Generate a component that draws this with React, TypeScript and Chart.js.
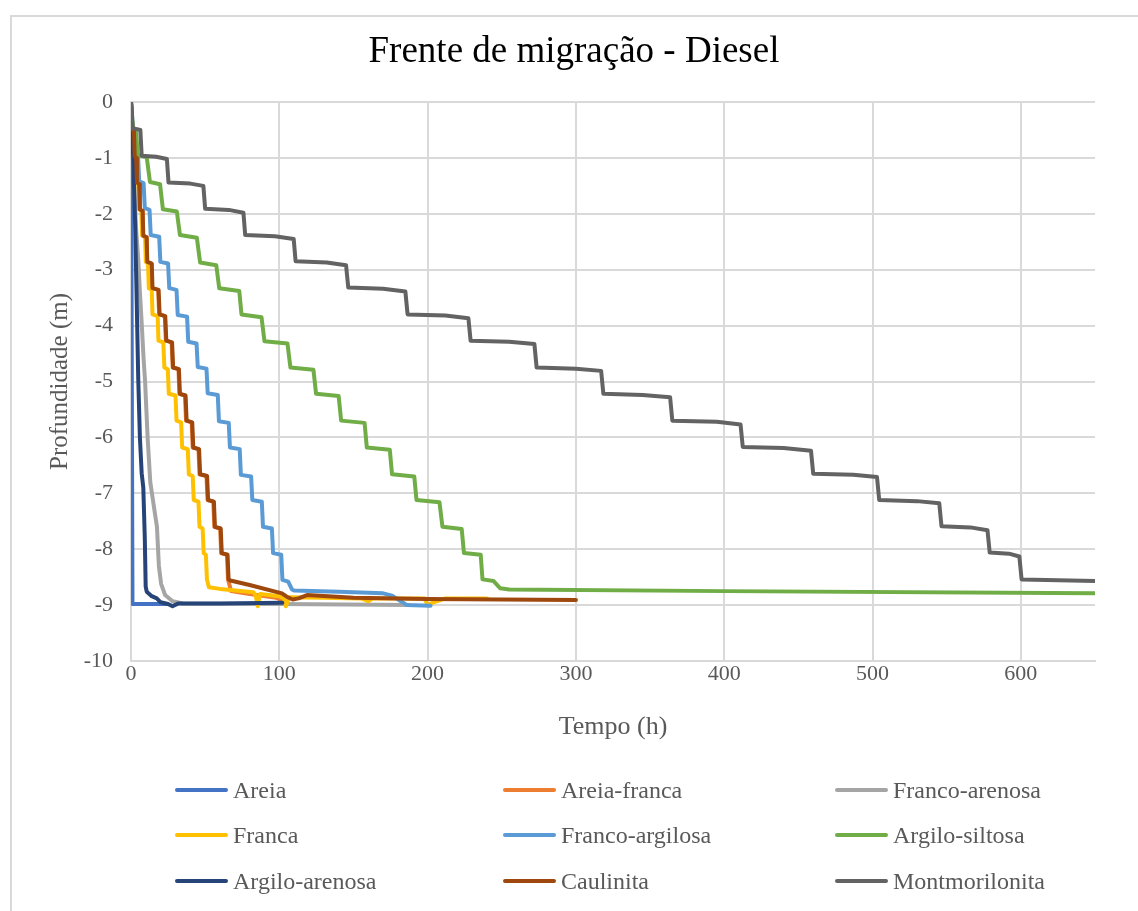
import { useEffect, useRef } from 'react';
import { Chart, registerables } from 'chart.js';

Chart.register(...registerables);

const FONT = "'Liberation Serif', 'Times New Roman', serif";
const TITLE = 'Frente de migração - Diesel';
const X_TITLE = 'Tempo (h)';
const Y_TITLE = 'Profundidade (m)';

const X_MIN = 0;
const X_MAX = 650;
const X_STEP = 100;
const Y_MIN = -10;
const Y_MAX = 0;
const Y_STEP = 1;

// [tempo (h), profundidade (m)]
const areia = [[0, 0], [1, -8.98], [24, -8.98]];

const areiaFranca = [
  [0, 0], [0.8, -0.5], [1.7, -0.52], [2.2, -0.97], [3.2, -1.0], [3.7, -1.44], [5.2, -1.47], [5.7, -1.92],
  [7.5, -1.95], [8, -2.39], [10.2, -2.42], [10.7, -2.86], [13.7, -2.89], [14.2, -3.33], [18.3, -3.36],
  [19, -3.8], [22.8, -3.83], [23.5, -4.27], [27.4, -4.3], [28.1, -4.75], [32, -4.78], [32.6, -5.22],
  [36.4, -5.25], [37.1, -5.7], [40.9, -5.73], [41.6, -6.18], [45.5, -6.21], [46.2, -6.66], [50.9, -6.69],
  [51.6, -7.12], [55.5, -7.15], [56.2, -7.6], [60.1, -7.63], [60.8, -8.07], [64.7, -8.1], [65.4, -8.54],
  [67.5, -8.75], [80, -8.8], [98, -8.87], [101, -8.9], [103, -8.96],
];

const francoArenosa = [
  [0, 0], [0.8, -0.5], [1.5, -1.0], [2.5, -1.7], [3.5, -2.3], [4.9, -2.83], [6, -3.4], [7.3, -4.0],
  [8.5, -4.6], [9.5, -5.0], [11.2, -6.0], [13, -6.8], [15.5, -7.25], [17.5, -7.6], [18.8, -8.3],
  [20.3, -8.62], [23, -8.82], [28, -8.93], [35, -8.97], [100, -8.98], [188, -9.0],
];

const franca = [
  [0, 0], [0.8, -0.5], [1.6, -0.52], [2, -0.97], [3, -1.0], [3.5, -1.44], [5, -1.47], [5.5, -1.92],
  [7, -1.95], [7.5, -2.39], [9.5, -2.42], [10, -2.86], [11.5, -2.89], [12, -3.33], [14, -3.36],
  [14.5, -3.8], [18, -3.83], [18.5, -4.27], [21.8, -4.3], [22.5, -4.75], [24.8, -4.78], [25.5, -5.22],
  [30, -5.25], [30.7, -5.7], [33.8, -5.73], [34.5, -6.18], [38.3, -6.21], [39, -6.66], [41.6, -6.69],
  [42.3, -7.12], [45.5, -7.15], [46.2, -7.6], [48.3, -7.63], [49, -8.07], [50.5, -8.1], [51.2, -8.54],
  [52.5, -8.68], [60, -8.71], [82.5, -8.77], [84, -8.82], [85.5, -9.02], [87, -8.8], [100, -8.84],
  [103, -8.88], [104.5, -9.02], [106.5, -8.86], [130, -8.87], [155, -8.88], [160, -8.93], [163, -8.88],
  [198, -8.88], [200, -9.0], [204, -8.95], [212, -8.88], [240, -8.88],
];

const francoArgilosa = [
  [0, 0], [1.5, -0.5], [3, -0.52], [3.8, -0.97], [4.8, -1.0], [5.5, -1.42], [8.5, -1.45], [9.3, -1.9],
  [12.5, -1.93], [13.3, -2.38], [19, -2.41], [19.8, -2.86], [25, -2.89], [25.8, -3.33], [30.7, -3.36],
  [31.5, -3.81], [37.8, -3.84], [38.6, -4.29], [44.2, -4.32], [45, -4.74], [50.9, -4.77], [51.7, -5.21],
  [58.5, -5.24], [59.3, -5.71], [65.9, -5.74], [66.7, -6.18], [73.3, -6.21], [74.1, -6.67], [81, -6.7],
  [81.8, -7.12], [88.2, -7.15], [89, -7.6], [95, -7.63], [95.8, -8.07], [101.3, -8.1], [102.1, -8.55],
  [106, -8.58], [108.5, -8.72], [110, -8.74], [140, -8.76], [170, -8.79], [176, -8.83], [182, -8.93],
  [186, -9.0], [202, -9.01],
];

const argiloSiltosa = [
  [0, 0], [1.5, -0.52], [3.5, -0.55], [4.5, -0.95], [10.6, -0.99], [12.8, -1.43], [19.6, -1.47],
  [21.5, -1.92], [30.9, -1.96], [33, -2.38], [44.4, -2.43], [46.6, -2.87], [57.5, -2.92], [59.5, -3.33],
  [73, -3.38], [74.5, -3.8], [88, -3.85], [90, -4.28], [105.5, -4.32], [107.5, -4.75], [123, -4.79],
  [124.8, -5.22], [140, -5.26], [141.7, -5.7], [157.5, -5.74], [159, -6.18], [174.5, -6.22], [176, -6.66],
  [191, -6.7], [192.5, -7.12], [208, -7.16], [210, -7.6], [223, -7.64], [224.5, -8.07], [235.8, -8.1],
  [237, -8.54], [244.5, -8.57], [249, -8.7], [255, -8.72], [400, -8.75], [650, -8.79],
];

const argiloArenosa = [
  [0, 0], [1.5, -1.0], [2.8, -2.2], [3.8, -3.5], [4.9, -4.97], [6, -6.0], [7.2, -6.64], [8.3, -6.9],
  [9.3, -7.8], [9.9, -8.67], [10.6, -8.76], [14, -8.84], [17.4, -8.88], [20, -8.95], [25, -8.98],
  [28, -9.02], [32, -8.97], [60, -8.97], [102, -8.96],
];

const caulinita = [
  [0, 0], [1, -0.5], [2, -0.52], [2.5, -0.97], [3.5, -1.0], [4, -1.44], [5.5, -1.47], [6, -1.92],
  [7.8, -1.95], [8.3, -2.39], [10.5, -2.42], [11, -2.86], [14, -2.89], [14.5, -3.33], [18.6, -3.36],
  [19.3, -3.8], [23.1, -3.83], [23.8, -4.27], [27.7, -4.3], [28.4, -4.75], [32.3, -4.78], [33, -5.22],
  [36.8, -5.25], [37.5, -5.7], [41.3, -5.73], [42, -6.18], [45.9, -6.21], [46.6, -6.66], [51.3, -6.69],
  [52, -7.12], [55.9, -7.15], [56.6, -7.6], [60.5, -7.63], [61.2, -8.07], [65.1, -8.1], [65.8, -8.54],
  [67, -8.56], [80, -8.64], [101.8, -8.79], [105, -8.85], [109, -8.9], [113, -8.88], [118.7, -8.82],
  [150, -8.87], [200, -8.89], [250, -8.9], [300, -8.91],
];

const montmorilonita = [
  [0, 0], [1, -0.47], [6.3, -0.5], [7.2, -0.96], [17, -0.98], [24.2, -1.02], [25.3, -1.44], [40, -1.46],
  [48.8, -1.5], [50, -1.91], [66, -1.93], [75.8, -1.98], [77, -2.38], [97, -2.4], [109.7, -2.45],
  [111, -2.85], [132, -2.87], [145, -2.92], [146.5, -3.32], [170, -3.34], [185, -3.39], [186.5, -3.8],
  [212, -3.82], [227.5, -3.87], [229, -4.27], [255, -4.29], [272, -4.33], [273.5, -4.75], [300, -4.77],
  [317, -4.81], [318.5, -5.22], [345, -5.24], [363.5, -5.28], [365, -5.7], [395, -5.72], [411, -5.77],
  [412.5, -6.17], [440, -6.19], [458.5, -6.24], [460, -6.65], [487, -6.67], [503, -6.71], [504.5, -7.12],
  [530, -7.14], [545, -7.18], [546.5, -7.59], [566, -7.61], [577.5, -7.66], [579, -8.06], [592, -8.08],
  [599, -8.13], [600.5, -8.54], [650, -8.57],
];

const SERIES_LABELS = [
  'Areia', 'Areia-franca', 'Franco-arenosa',
  'Franca', 'Franco-argilosa', 'Argilo-siltosa',
  'Argilo-arenosa', 'Caulinita', 'Montmorilonita',
];
const SERIES_DATA = [
  areia, areiaFranca, francoArenosa,
  franca, francoArgilosa, argiloSiltosa,
  argiloArenosa, caulinita, montmorilonita,
];
const SERIES_COLORS = [
  '#4472C4', '#ED7D31', '#A5A5A5',
  '#FFC000', '#5B9BD5', '#70AD47',
  '#264478', '#9E480E', '#636363',
];

const GRID = '#D9D9D9';
const TEXT = '#595959';

const LEGEND_COL_X = [175, 503, 835];
const LEGEND_ROW_Y = [790, 835, 881];

export default function App() {
  const canvasRef = useRef<HTMLCanvasElement | null>(null);

  useEffect(() => {
    const canvas = canvasRef.current;
    if (!canvas) return;
    const n = SERIES_LABELS.length;
    const datasets = SERIES_LABELS.map((label, i) => ({
      label,
      data: SERIES_DATA[i].map(([x, y]) => ({ x, y })),
      borderColor: SERIES_COLORS[i],
      backgroundColor: SERIES_COLORS[i],
      borderWidth: 4,
      pointRadius: 0,
      pointHoverRadius: 0,
      showLine: true,
      fill: false,
      tension: 0,
      borderJoinStyle: 'round' as const,
      borderCapStyle: 'round' as const,
      order: n - 1 - i,
    }));

    const chart = new Chart(canvas, {
      type: 'scatter',
      data: { datasets },
      options: {
        animation: false,
        responsive: false,
        events: [],
        layout: { padding: { left: 53, right: 43, top: 15, bottom: 168 } },
        plugins: {
          legend: { display: false },
          tooltip: { enabled: false },
          title: {
            display: true,
            text: TITLE,
            color: '#000000',
            font: { family: FONT, size: 37, weight: 'normal', lineHeight: 1.2 },
            padding: { top: 15, bottom: 27.6 },
          },
        },
        scales: {
          x: {
            type: 'linear',
            min: X_MIN,
            max: X_MAX,
            ticks: {
              stepSize: X_STEP,
              includeBounds: false,
              color: TEXT,
              font: { family: FONT, size: 22 },
              padding: 0,
              maxRotation: 0,
            },
            grid: { color: GRID, lineWidth: 2, drawTicks: false },
            border: { color: GRID, width: 2 },
            title: {
              display: true,
              text: X_TITLE,
              color: TEXT,
              font: { family: FONT, size: 26, lineHeight: 1.2 },
              padding: { top: 0.6, bottom: 0 },
            },
            afterFit: (scale: any) => {
              scale.height = 82;
            },
          },
          y: {
            type: 'linear',
            min: Y_MIN,
            max: Y_MAX,
            ticks: {
              stepSize: Y_STEP,
              color: TEXT,
              font: { family: FONT, size: 22 },
              padding: 18,
            },
            grid: { color: GRID, lineWidth: 2, drawTicks: false },
            border: { color: GRID, width: 2 },
            title: {
              display: true,
              text: Y_TITLE,
              color: TEXT,
              font: { family: FONT, size: 25, lineHeight: 1.2 },
              padding: { top: -8, bottom: 0 },
            },
            afterFit: (scale: any) => {
              scale.width = 78;
            },
          },
        },
      },
    } as any);

    return () => {
      chart.destroy();
    };
  }, []);

  return (
    <div style={{ position: 'relative', width: 1138, height: 911, overflow: 'hidden', background: '#ffffff' }}>
      <style>{'body{margin:0;overflow:hidden;background:#fff}'}</style>
      <div
        style={{
          position: 'absolute',
          left: 10,
          top: 15,
          width: 2000,
          height: 2000,
          borderLeft: `2px solid ${GRID}`,
          borderTop: `2px solid ${GRID}`,
        }}
      />
      <canvas
        ref={canvasRef}
        width={1138}
        height={911}
        style={{ position: 'absolute', left: 0, top: 0, width: 1138, height: 911 }}
      />
      {SERIES_LABELS.map((label, i) => {
        const col = i % 3;
        const row = Math.floor(i / 3);
        return (
          <div
            key={label}
            style={{
              position: 'absolute',
              left: LEGEND_COL_X[col],
              top: LEGEND_ROW_Y[row] - 15,
              height: 30,
              display: 'flex',
              alignItems: 'center',
            }}
          >
            <span
              style={{
                display: 'inline-block',
                width: 53,
                height: 4,
                borderRadius: 2,
                background: SERIES_COLORS[i],
              }}
            />
            <span
              style={{
                marginLeft: 5,
                fontFamily: FONT,
                fontSize: 24,
                lineHeight: '30px',
                color: TEXT,
                whiteSpace: 'nowrap',
              }}
            >
              {label}
            </span>
          </div>
        );
      })}
    </div>
  );
}
